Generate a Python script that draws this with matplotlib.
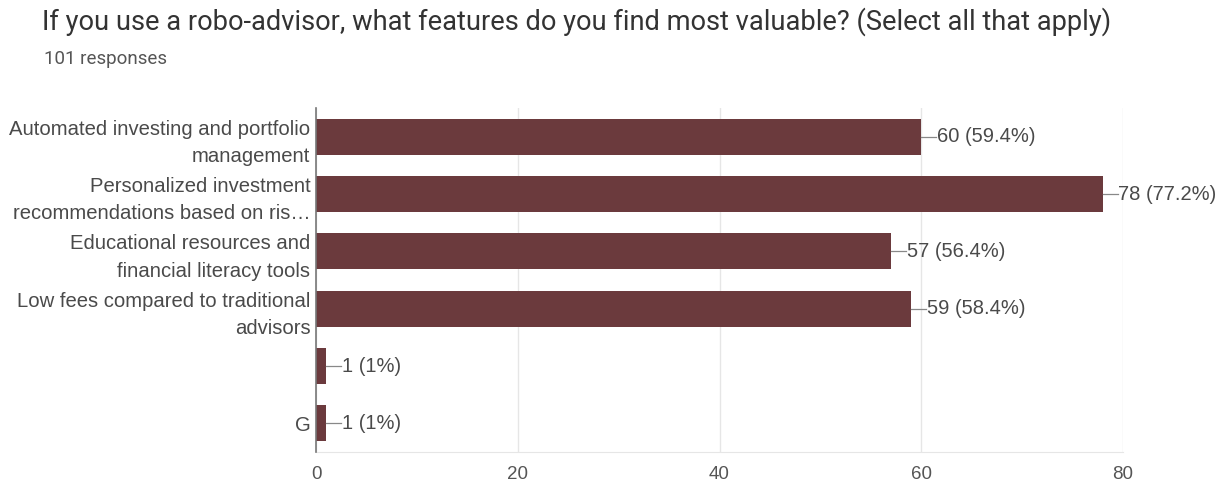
import matplotlib
matplotlib.use("Agg")
import matplotlib.pyplot as plt

title = "If you use a robo-advisor, what features do you find most valuable? (Select all that apply)"
subtitle = "101 responses"
categories = [
    "Automated investing and portfolio\nmanagement",
    "Personalized investment\nrecommendations based on ris\u2026",
    "Educational resources and\nfinancial literacy tools",
    "Low fees compared to traditional\nadvisors",
    "",
    "G",
]
counts = [60, 78, 57, 59, 1, 1]
percents = ["59.4%", "77.2%", "56.4%", "58.4%", "1%", "1%"]
xticks = [0, 20, 40, 60, 80]

bar_color = "#6b3a3d"
text_color = "#4a4a4a"
label_font = ['Liberation Sans', 'DejaVu Sans']
plt.rcParams['font.family'] = ['Roboto', 'DejaVu Sans']

fig = plt.figure(figsize=(12.25, 4.87), dpi=100)
ax = fig.add_axes([316/1225, 1-452/487, (1123-316)/1225, (452-108)/487])

y = list(range(len(categories)))
ax.barh(y, counts, height=0.63, color=bar_color, zorder=3)
ax.set_ylim(len(categories)-0.5, -0.5)
ax.set_xlim(0, 80)
ax.set_xticks(xticks)
ax.set_xticklabels([str(t) for t in xticks], fontsize=13.5, color='#555555',
                   family=label_font)
ax.set_yticks(y)
ax.set_yticklabels(categories, fontsize=14.6, color=text_color, linespacing=1.55,
                   family=label_font)
ax.tick_params(axis='both', length=0)
ax.tick_params(axis='x', pad=10)
ax.tick_params(axis='y', pad=4)
ax.grid(axis='x', color='#e6e6e6', linewidth=1, zorder=0)
for s in ['top', 'right']:
    ax.spines[s].set_visible(False)
ax.spines['bottom'].set_color('#e6e6e6')
ax.spines['left'].set_color('#777777')
ax.spines['left'].set_linewidth(1.2)
ax.spines['left'].set_zorder(5)

for yi, c, p in zip(y, counts, percents):
    ax.plot([c, c + 1.5], [yi, yi], color='#888888', linewidth=0.9, zorder=4, clip_on=False)
    ax.text(c + 1.55, yi, f"{c} ({p})", va='center', ha='left', fontsize=14.5,
            color=text_color, clip_on=False, family=label_font)

fig.text(42/1225, 1-22/487, title, fontsize=19.6, color='#333333', va='center', ha='left')
fig.text(44/1225, 1-59/487, subtitle, fontsize=13.5, color='#555555', va='center', ha='left')

fig.savefig("out.png", dpi=100, facecolor='white')
